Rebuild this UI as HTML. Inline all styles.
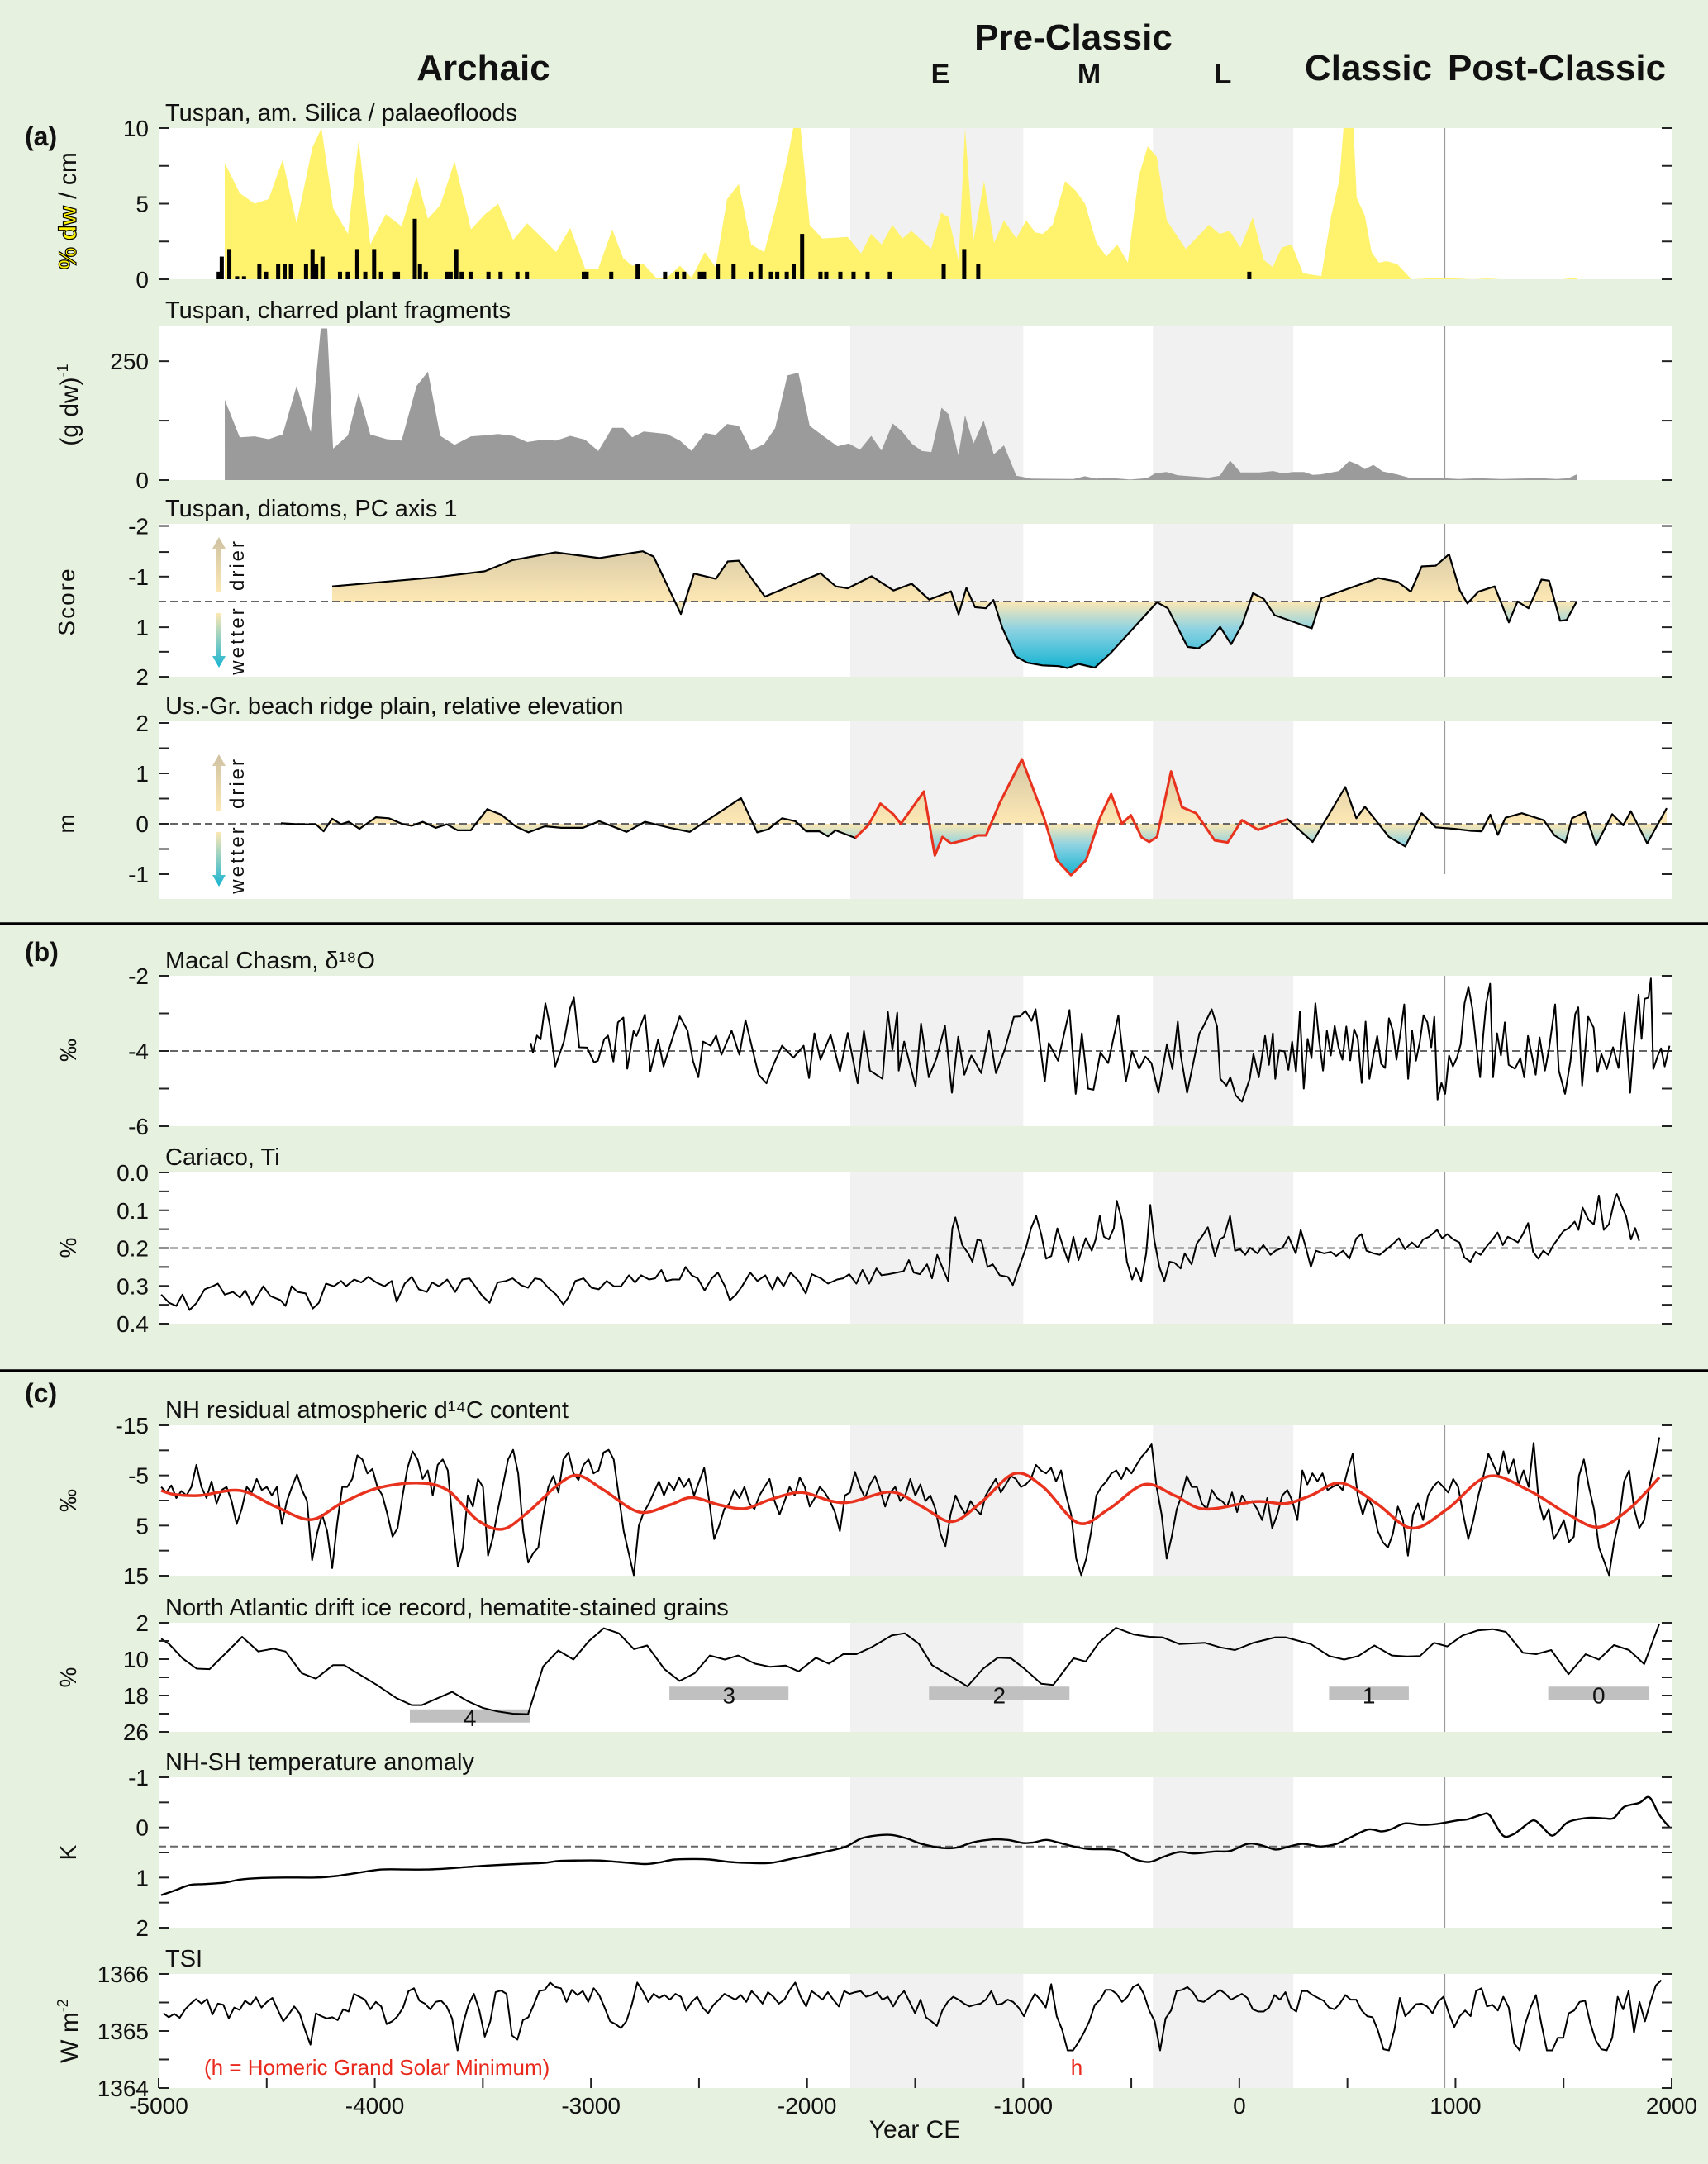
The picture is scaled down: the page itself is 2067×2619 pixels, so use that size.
<!DOCTYPE html>
<html><head><meta charset="utf-8"><title>Palaeoclimate records</title>
<style>html,body{margin:0;padding:0;background:#e7f1df;}svg{display:block;font-family:"Liberation Sans",sans-serif;}</style>
</head><body>
<svg id="chart" xmlns="http://www.w3.org/2000/svg" width="2067" height="2619" viewBox="0 0 2067 2619">
<defs>
<linearGradient id="gTanA3" gradientUnits="userSpaceOnUse" x1="0" y1="660" x2="0" y2="728"><stop offset="0" stop-color="#d6c8a6"/><stop offset="1" stop-color="#fde8b4"/></linearGradient>
<linearGradient id="gBlueA3" gradientUnits="userSpaceOnUse" x1="0" y1="728" x2="0" y2="810"><stop offset="0" stop-color="#fde8b4"/><stop offset="0.4" stop-color="#8fd3e2"/><stop offset="1" stop-color="#12b3d2"/></linearGradient>
<linearGradient id="gTanA4" gradientUnits="userSpaceOnUse" x1="0" y1="920" x2="0" y2="997"><stop offset="0" stop-color="#d6c8a6"/><stop offset="1" stop-color="#fde8b4"/></linearGradient>
<linearGradient id="gBlueA4" gradientUnits="userSpaceOnUse" x1="0" y1="997" x2="0" y2="1060"><stop offset="0" stop-color="#fde8b4"/><stop offset="0.4" stop-color="#8fd3e2"/><stop offset="1" stop-color="#12b3d2"/></linearGradient>
<linearGradient id="gArrowUp" x1="0" y1="1" x2="0" y2="0"><stop offset="0" stop-color="#fde8b4"/><stop offset="1" stop-color="#cfc2a2"/></linearGradient>
<linearGradient id="gArrowDown" x1="0" y1="0" x2="0" y2="1"><stop offset="0" stop-color="#fde8b4"/><stop offset="1" stop-color="#16b4d2"/></linearGradient>
</defs>
<rect x="0" y="0" width="2067" height="2619" fill="#e7f1df"/>
<g id="layer"></g>
</svg>
<script>
// ---------- data ----------
const silicaYears=[-4694,-4625,-4556,-4491,-4426,-4362,-4289,-4247,-4193,-4124,-4075,-4021,-3949,-3876,-3807,-3754,-3697,-3631,-3555,-3490,-3429,-3360,-3295,-3230,-3161,-3096,-3027,-2966,-2901,-2851,-2809,-2756,-2698,-2649,-2588,-2534,-2473,-2423,-2370,-2316,-2259,-2198,-2148,-2091,-2064,-2030,-1988,-1930,-1812,-1750,-1704,-1655,-1605,-1559,-1517,-1426,-1380,-1345,-1299,-1269,-1231,-1181,-1135,-1089,-1032,-986,-944,-909,-864,-806,-760,-714,-661,-615,-565,-516,-466,-424,-382,-336,-248,-141,-91,-45,5,62,112,154,196,242,295,379,425,463,482,528,543,581,612,646,681,731,796,941,1079,1148,1209,1496,1561];
const silicaValues=[7.7,5.7,5.0,5.3,7.9,3.7,8.7,10,4.7,3.0,9.2,2.3,4.3,3.5,6.8,4.0,4.9,7.8,3.3,4.3,5.0,2.6,3.7,2.8,1.8,3.4,0.7,0.7,3.3,1.4,0.9,1.0,0.1,0.1,0.9,0.1,1.8,0.8,5.3,6.3,2.3,1.8,4.5,8.0,10,10,3.6,2.7,2.8,1.7,3.0,2.3,3.6,2.7,3.2,2.0,4.4,4.1,1.2,10,2.5,6.5,2.4,3.9,2.7,3.9,3.1,3.0,3.6,6.5,5.9,5.0,2.4,1.5,2.3,1.1,6.8,8.8,8.1,3.9,2.0,3.6,3.0,3.2,2.1,4.1,1.3,0.8,2.1,2.3,0.4,0.2,4.2,6.6,10,10,5.4,4.2,1.8,1.1,1.2,1.0,0.0,0.1,0.0,0.05,0.0,0.0,0.1];
const floodYears=[-4722,-4708,-4673,-4637,-4605,-4534,-4503,-4447,-4417,-4388,-4318,-4288,-4271,-4242,-4161,-4125,-4081,-4044,-4003,-3971,-3910,-3893,-3815,-3791,-3764,-3667,-3649,-3623,-3598,-3557,-3474,-3418,-3340,-3296,-3033,-3020,-2906,-2784,-2657,-2601,-2569,-2496,-2477,-2413,-2340,-2260,-2216,-2167,-2138,-2094,-2062,-2023,-1938,-1911,-1846,-1785,-1720,-1617,-1368,-1273,-1208,46];
const floodCounts=[0.5,1.5,2,0.2,0.2,1,0.5,1,1,1,1,2,1,1.5,0.5,0.5,2,0.5,2,0.5,0.5,0.5,4,1,0.5,0.5,0.5,2,0.5,0.5,0.5,0.5,0.5,0.5,0.5,0.5,0.5,1,0.5,0.5,0.5,0.5,0.5,1,1,0.5,1,0.5,0.5,0.5,1,3,0.5,0.5,0.5,0.5,0.5,0.5,1,2,1,0.5];
const charYears=[-4694,-4625,-4556,-4491,-4426,-4362,-4296,-4250,-4220,-4193,-4124,-4075,-4021,-3945,-3876,-3807,-3754,-3697,-3631,-3555,-3490,-3429,-3360,-3295,-3222,-3161,-3096,-3027,-2966,-2901,-2851,-2809,-2756,-2649,-2588,-2534,-2473,-2423,-2370,-2316,-2259,-2198,-2148,-2091,-2040,-1988,-1911,-1859,-1807,-1755,-1703,-1656,-1604,-1560,-1516,-1469,-1425,-1378,-1344,-1300,-1269,-1230,-1183,-1136,-1089,-1032,-962,-767,-715,-663,-610,-506,-428,-389,-337,-285,-142,-90,-43,6,92,157,201,248,300,339,378,461,508,547,581,620,664,729,794,872,942,1015,1106,1210,1288,1392,1470,1522,1561];
const charValues=[169,90,92,86,96,198,101,319,319,66,94,183,96,86,83,198,228,93,74,92,94,97,93,80,85,83,93,85,61,110,110,90,102,97,83,61,99,95,118,114,62,76,109,220,226,114,88,71,77,64,93,62,119,102,77,61,59,152,138,52,136,77,125,54,73,9,3,2,8,3,5,1,4,14,17,10,5,9,41,16,16,19,14,17,17,11,12,19,40,33,23,32,18,12,4,5,4,2,4,2,3,4,2,4,12];
const diatomYears=[-4197,-3718,-3491,-3365,-3164,-2962,-2760,-2710,-2584,-2523,-2422,-2367,-2316,-2195,-1938,-1867,-1812,-1701,-1600,-1516,-1435,-1334,-1299,-1263,-1223,-1173,-1138,-1097,-1037,-982,-911,-835,-795,-744,-669,-593,-381,-331,-240,-190,-139,-89,-38,12,63,113,163,335,380,642,733,793,844,909,970,1020,1055,1106,1181,1247,1287,1338,1398,1433,1484,1514,1559];
const diatomScores=[-0.40,-0.64,-0.80,-1.09,-1.30,-1.15,-1.33,-1.19,0.33,-0.74,-0.60,-1.06,-1.08,-0.13,-0.75,-0.40,-0.35,-0.67,-0.29,-0.47,-0.05,-0.27,0.34,-0.36,0.15,0.18,-0.04,0.69,1.44,1.62,1.69,1.71,1.76,1.65,1.75,1.35,0.02,0.18,1.20,1.24,1.03,0.67,1.13,0.62,-0.22,-0.07,0.36,0.71,-0.09,-0.62,-0.52,-0.26,-0.93,-0.95,-1.25,-0.29,0.05,-0.26,-0.40,0.55,0,0.18,-0.58,-0.55,0.51,0.49,0.02];
const beachYears=[-4434,-4348,-4273,-4237,-4197,-4156,-4121,-4071,-3995,-3935,-3869,-3829,-3778,-3718,-3667,-3617,-3556,-3480,-3415,-3349,-3289,-3213,-3137,-3037,-2961,-2835,-2750,-2634,-2543,-2306,-2231,-2180,-2115,-2054,-2004,-1944,-1903,-1868,-1777,-1717,-1661,-1601,-1566,-1460,-1409,-1374,-1334,-1248,-1213,-1172,-1107,-1006,-905,-845,-779,-709,-643,-593,-543,-502,-452,-417,-381,-316,-265,-200,-114,-54,12,87,223,339,490,541,581,692,768,843,909,995,1070,1121,1161,1196,1231,1307,1408,1458,1509,1539,1599,1650,1725,1776,1811,1887,1977];
const beachElev=[0.01,-0.01,-0.01,-0.15,0.10,-0.01,0.04,-0.10,0.13,0.11,-0.01,-0.04,0.04,-0.08,-0.01,-0.13,-0.13,0.29,0.18,-0.05,-0.17,-0.05,-0.08,-0.08,0.05,-0.16,0.04,-0.08,-0.16,0.51,-0.17,-0.11,0.11,0.05,-0.15,-0.15,-0.25,-0.13,-0.28,-0.03,0.40,0.19,0,0.64,-0.63,-0.26,-0.39,-0.30,-0.23,-0.23,0.43,1.28,0.14,-0.72,-1.02,-0.72,0.14,0.59,0,0.17,-0.27,-0.36,-0.26,1.04,0.33,0.21,-0.33,-0.37,0.07,-0.12,0.09,-0.36,0.73,0.11,0.34,-0.26,-0.45,0.21,-0.07,-0.10,-0.14,-0.15,0.18,-0.22,0.12,0.21,0.07,-0.23,-0.37,0.11,0.23,-0.43,0.19,-0.03,0.25,-0.39,0.31];
const macalYears=[-3279,-3268,-3250,-3233,-3211,-3190,-3165,-3125,-3097,-3079,-3054,-3018,-2986,-2968,-2939,-2921,-2896,-2875,-2850,-2832,-2803,-2789,-2750,-2725,-2689,-2664,-2624,-2589,-2553,-2528,-2503,-2481,-2446,-2421,-2396,-2349,-2313,-2285,-2242,-2224,-2188,-2159,-2116,-2063,-2016,-1991,-1966,-1938,-1891,-1848,-1812,-1766,-1737,-1709,-1651,-1626,-1605,-1583,-1576,-1551,-1498,-1473,-1437,-1401,-1362,-1330,-1301,-1272,-1240,-1194,-1158,-1126,-1086,-1043,-1015,-990,-961,-943,-900,-882,-839,-786,-757,-729,-700,-675,-643,-607,-560,-525,-496,-464,-435,-407,-374,-335,-310,-285,-271,-242,-203,-185,-167,-128,-103,-88,-60,-42,-17,12,48,65,90,119,137,155,166,184,209,227,244,262,280,298,316,334,352,370,387,405,423,441,459,477,495,513,531,548,566,584,602,620,638,656,674,692,710,727,745,763,781,799,817,835,852,870,888,902,917,935,952,970,988,1006,1024,1042,1060,1078,1096,1114,1128,1142,1160,1174,1192,1210,1228,1246,1275,1300,1318,1335,1371,1389,1414,1432,1461,1478,1507,1532,1554,1568,1586,1614,1639,1657,1675,1700,1729,1754,1782,1808,1825,1847,1861,1875,1893,1904,1915,1936,1951,1968,1990];
const macalD18O=[-3.79,-4.04,-3.59,-3.69,-2.73,-3.31,-4.41,-3.75,-2.87,-2.58,-3.90,-3.91,-4.30,-4.26,-3.69,-3.59,-4.28,-3.24,-3.11,-4.47,-3.47,-3.60,-3.03,-4.54,-3.69,-4.41,-3.68,-3.08,-3.46,-4.26,-4.70,-3.75,-3.86,-3.59,-4.10,-3.46,-4.10,-3.18,-4.21,-4.63,-4.86,-4.41,-3.86,-4.18,-3.86,-4.72,-3.53,-4.23,-3.57,-4.54,-3.52,-4.86,-3.47,-4.52,-4.74,-2.96,-3.97,-2.98,-4.52,-3.75,-4.94,-3.27,-4.70,-4.19,-3.33,-5.11,-3.62,-4.63,-4.12,-4.59,-3.47,-4.59,-3.97,-3.09,-3.08,-2.93,-3.20,-2.89,-4.81,-3.79,-4.26,-2.91,-5.14,-3.53,-5.0,-5.03,-4.04,-4.32,-3.05,-4.81,-4.01,-4.47,-4.15,-4.32,-5.11,-3.82,-4.48,-3.22,-4.12,-5.11,-4.03,-3.53,-3.35,-2.89,-3.35,-4.74,-4.92,-4.70,-5.18,-5.35,-4.74,-4.08,-4.70,-3.60,-4.37,-3.53,-4.74,-3.99,-4.01,-4.50,-3.75,-4.56,-2.95,-5.0,-3.68,-4.19,-2.73,-3.75,-4.52,-3.46,-4.12,-3.33,-3.90,-4.23,-3.35,-4.25,-3.42,-3.68,-4.85,-3.22,-4.74,-4.12,-3.60,-4.34,-4.45,-3.13,-3.46,-4.23,-3.53,-2.76,-4.74,-3.46,-4.26,-3.75,-3.05,-3.24,-3.90,-3.09,-5.29,-4.85,-5.14,-4.12,-4.41,-4.19,-3.82,-2.73,-2.29,-2.87,-3.82,-4.70,-3.60,-2.73,-2.21,-4.70,-3.53,-4.12,-3.24,-4.37,-4.47,-4.19,-4.70,-3.60,-4.63,-3.64,-4.52,-3.97,-2.76,-4.52,-5.14,-4.26,-3.02,-2.84,-4.92,-3.09,-3.38,-4.56,-4.08,-4.48,-3.90,-4.45,-2.98,-5.11,-3.86,-2.50,-3.68,-2.61,-2.58,-2.07,-4.48,-4.12,-3.93,-4.41,-3.86];
const cariacoYears=[-4988,-4951,-4918,-4890,-4857,-4824,-4787,-4750,-4726,-4694,-4656,-4624,-4600,-4567,-4539,-4516,-4483,-4436,-4413,-4385,-4357,-4320,-4287,-4259,-4226,-4189,-4156,-4133,-4095,-4063,-4030,-3993,-3955,-3922,-3899,-3862,-3829,-3796,-3759,-3735,-3703,-3665,-3628,-3595,-3562,-3525,-3502,-3469,-3432,-3394,-3362,-3324,-3291,-3259,-3231,-3198,-3161,-3128,-3105,-3072,-3034,-2997,-2964,-2927,-2894,-2861,-2824,-2796,-2768,-2731,-2703,-2674,-2651,-2623,-2590,-2562,-2534,-2506,-2474,-2441,-2413,-2380,-2357,-2329,-2301,-2263,-2230,-2193,-2160,-2137,-2109,-2076,-2039,-2006,-1978,-1936,-1903,-1861,-1833,-1805,-1772,-1744,-1712,-1679,-1656,-1623,-1585,-1553,-1529,-1506,-1478,-1445,-1422,-1398,-1375,-1347,-1328,-1314,-1282,-1254,-1235,-1212,-1193,-1165,-1141,-1109,-1071,-1048,-1015,-987,-964,-940,-917,-894,-870,-842,-814,-791,-768,-744,-711,-683,-665,-646,-627,-604,-581,-567,-543,-520,-496,-478,-454,-431,-412,-394,-370,-347,-323,-300,-272,-253,-221,-197,-169,-146,-113,-90,-71,-43,-20,4,27,50,83,111,144,167,200,228,261,284,308,331,354,392,424,448,480,509,541,565,588,621,649,682,705,738,766,798,826,850,878,915,938,962,990,1018,1041,1069,1093,1116,1149,1172,1195,1219,1242,1266,1289,1312,1336,1359,1383,1406,1429,1453,1476,1499,1523,1551,1569,1588,1616,1640,1663,1686,1710,1738,1747,1770,1789,1812,1831,1850];
const cariacoTi=[.323,.345,.353,.323,.364,.345,.309,.301,.294,.323,.316,.331,.312,.349,.323,.301,.327,.338,.353,.301,.316,.320,.360,.345,.294,.301,.287,.301,.283,.291,.276,.291,.301,.287,.342,.294,.276,.309,.316,.291,.301,.283,.316,.283,.280,.309,.327,.345,.291,.287,.280,.298,.305,.280,.283,.305,.323,.349,.331,.287,.280,.305,.309,.287,.301,.301,.272,.291,.272,.283,.280,.258,.287,.283,.283,.250,.272,.280,.312,.280,.265,.301,.338,.323,.301,.265,.287,.272,.309,.276,.301,.265,.287,.320,.269,.280,.294,.283,.280,.269,.294,.258,.294,.254,.272,.269,.265,.261,.232,.265,.269,.243,.280,.218,.250,.287,.148,.119,.192,.214,.236,.177,.181,.250,.243,.272,.276,.298,.243,.199,.148,.115,.163,.228,.221,.148,.199,.236,.170,.232,.174,.207,.177,.115,.170,.177,.148,.075,.126,.236,.283,.254,.287,.214,.086,.177,.250,.287,.236,.239,.254,.214,.243,.188,.166,.145,.221,.177,.170,.115,.207,.203,.218,.199,.214,.192,.218,.207,.199,.170,.214,.152,.199,.250,.207,.214,.210,.221,.207,.228,.174,.163,.207,.214,.218,.203,.192,.174,.203,.185,.199,.177,.170,.152,.174,.163,.177,.185,.225,.236,.210,.218,.192,.177,.159,.192,.170,.177,.185,.163,.134,.210,.228,.207,.218,.192,.174,.155,.148,.130,.152,.093,.126,.137,.061,.152,.137,.068,.057,.090,.115,.177,.147,.181];
const d14cFirstYear=-4988, d14cLastYear=1943;
const d14cValues=[-2.7,-1.6,-3.0,-0.5,-1.9,-1.0,-2.7,-7.1,-2.7,-0.5,-3.8,0.6,-2.1,-2.7,0.1,4.7,1.7,-2.7,-1.6,-4.3,-2.1,-2.7,-1.0,-2.7,4.7,0.1,-2.7,-5.2,-2.1,0.1,11.9,6.6,2.8,6.1,13.5,4.5,-2.7,-2.7,-4.3,-9.0,-8.2,-5.4,-6.3,-2.7,-1.0,2.8,7.2,5.5,-1.0,-6.5,-9.8,-8.2,-4.3,-6.0,-1.0,-7.1,-8.2,-6.0,4.5,13.2,9.4,-1.0,1.2,-4.3,-2.7,11.0,7.2,1.7,-3.2,-8.2,-10.1,-5.4,6.1,12.4,10.5,9.4,2.8,-2.7,-4.9,-1.6,-8.2,-9.6,-5.4,-4.1,-7.1,-8.2,-5.4,-6.0,-9.6,-10.1,-8.2,-1.0,6.1,10.5,14.9,5.0,2.3,0.6,-1.6,-3.8,-1.0,-3.5,-2.1,-4.6,-2.7,-4.3,-1.0,-3.8,-6.5,0.1,7.7,5.0,1.7,0.6,-2.1,-0.5,-2.7,0.6,1.7,-1.0,-2.7,-4.3,0.1,2.8,0.1,-2.7,-1.0,-4.6,-2.7,1.2,-0.5,-2.7,-1.6,0.1,2.3,6.1,-1.0,-1.6,-5.7,-2.7,-0.5,-3.2,-4.9,-2.1,1.2,-1.6,-2.7,0.1,-1.0,-4.3,-1.0,-3.2,0.1,-1.0,1.7,6.6,9.1,2.8,-1.0,1.2,2.8,0.1,1.7,2.8,-1.0,-2.7,-4.3,-1.6,-3.2,-4.9,-4.3,-2.7,-3.2,-4.3,-7.1,-6.0,-5.4,-6.5,-3.8,-6.0,-1.0,2.8,11.6,14.9,11.6,6.1,-1.0,-2.7,-3.8,-5.4,-6.0,-4.3,-6.5,-5.4,-7.1,-8.7,-9.8,-11.2,-2.7,2.8,11.6,7.2,1.7,-1.0,-4.9,-2.7,-2.7,0.6,1.7,-2.1,-0.5,0.1,1.2,-1.6,2.3,-1.0,0.6,0.1,1.7,3.9,-0.5,5.5,2.8,-1.0,-2.1,0.1,3.9,-6.0,-3.2,-5.4,-3.8,-5.4,-2.1,-2.7,-3.2,-2.1,-6.0,-9.3,-1.0,2.8,-0.5,1.2,6.1,8.3,9.4,6.6,1.2,3.9,11.0,2.8,0.6,3.9,-1.0,-2.7,-3.8,-2.7,-1.6,-4.3,-2.7,2.8,7.7,3.9,-1.0,-4.9,-9.3,-7.1,-4.9,-9.8,-5.4,-8.2,-3.2,-6.0,-2.7,-11.5,0.1,3.9,1.7,7.7,6.1,3.9,8.3,7.2,-4.9,-8.2,-2.7,1.7,9.4,12.1,14.9,8.3,3.9,-3.8,-6.0,1.7,5.5,3.9,-2.7,-7.1,-12.6];
const d14cSmoothYears=[-4988,-4927,-4810,-4623,-4460,-4296,-4156,-3993,-3806,-3665,-3525,-3408,-3291,-3151,-3058,-2941,-2777,-2637,-2534,-2403,-2287,-2170,-2029,-1889,-1796,-1609,-1469,-1328,-1188,-1039,-908,-744,-604,-440,-300,-160,74,214,331,471,635,798,962,1149,1336,1523,1663,1803,1943];
const d14cSmoothValues=[-2.0,-1.2,-1.0,-2.0,1.2,3.8,0.6,-2.4,-3.5,-2.1,3.9,5.7,2.3,-3.2,-5.0,-2.1,2.3,0.9,-0.6,0.9,1.6,-0.2,-1.6,0.1,0.3,-1.7,1.2,4.2,0.1,-5.4,-2.7,4.5,1.7,-3.2,-1.0,1.7,0.2,0.6,-1.0,-3.5,0.6,5.5,1.7,-4.8,-2.1,2.8,5.3,1.7,-4.6];
const iceYears=[-4988,-4951,-4890,-4824,-4764,-4694,-4614,-4539,-4469,-4413,-4338,-4273,-4193,-4142,-3993,-3899,-3829,-3782,-3642,-3572,-3502,-3432,-3362,-3291,-3221,-3151,-3081,-3011,-2941,-2871,-2801,-2740,-2660,-2590,-2520,-2450,-2380,-2319,-2240,-2170,-2100,-2039,-1959,-1899,-1833,-1772,-1702,-1609,-1548,-1483,-1422,-1338,-1258,-1188,-1118,-1057,-992,-917,-861,-767,-711,-650,-571,-487,-417,-356,-277,-160,-90,-20,65,167,214,331,415,485,551,625,705,775,836,901,962,1032,1102,1172,1233,1312,1373,1443,1523,1602,1663,1733,1803,1873,1943];
const iceGrains=[5.5,6.7,9.8,12.1,12.2,8.9,5.1,8.3,7.7,8.3,13.1,14.3,11.3,11.3,15.6,18.6,20.1,20.1,17.2,19.2,20.7,21.5,22.0,22.1,11.6,8.1,10.1,6.1,3.2,4.3,7.8,7.0,12.2,14.8,13.1,9.2,10.1,9.2,11.0,11.7,11.4,12.7,9.7,11.0,8.9,8.9,7.4,4.8,4.3,6.6,11.3,13.7,16.0,12.2,9.7,9.8,12.2,15.4,15.7,9.8,10.5,6.4,3.1,4.6,5.1,5.2,6.7,6.4,7.4,8.0,6.4,5.2,5.2,6.7,9.3,10.1,9.3,7.0,9.2,9.4,9.3,6.4,7.2,4.8,3.7,3.4,4.0,8.6,8.9,8.0,13.3,8.9,10.1,6.9,8.0,11.1,2.2];
const bondEventLabels=["4","3","2","1","0"];
const bondEventStart=[-3838,-2637,-1436,415,1429];
const bondEventEnd=[-3282,-2086,-786,784,1897];
const bondEventLevel=[22.5,17.5,17.5,17.5,17.5];
const nhshYears=[-4988,-4927,-4857,-4787,-4694,-4624,-4530,-4413,-4273,-4179,-4086,-3969,-3852,-3759,-3665,-3572,-3478,-3338,-3221,-3151,-3058,-2964,-2871,-2754,-2684,-2614,-2520,-2450,-2357,-2263,-2170,-2076,-1983,-1889,-1819,-1749,-1679,-1609,-1539,-1469,-1375,-1305,-1235,-1141,-1071,-1001,-954,-894,-838,-767,-697,-590,-534,-487,-417,-347,-277,-207,-113,-43,36,97,167,214,284,331,378,448,518,597,658,705,766,845,915,1009,1055,1126,1158,1219,1266,1303,1359,1397,1443,1476,1523,1616,1686,1733,1780,1850,1897,1943,1990];
const nhshAnomaly=[1.35,1.26,1.15,1.13,1.10,1.04,1.01,1.00,1.00,0.97,0.91,0.84,0.84,0.84,0.82,0.79,0.76,0.73,0.71,0.67,0.66,0.66,0.69,0.73,0.70,0.64,0.63,0.64,0.69,0.71,0.71,0.63,0.55,0.46,0.38,0.22,0.16,0.15,0.22,0.33,0.41,0.40,0.30,0.24,0.25,0.31,0.30,0.25,0.30,0.38,0.43,0.44,0.51,0.63,0.69,0.58,0.49,0.52,0.48,0.47,0.33,0.35,0.44,0.40,0.33,0.35,0.38,0.33,0.19,0.04,0.08,0.03,-0.08,-0.05,-0.07,-0.14,-0.16,-0.26,-0.24,0.16,0.14,0.03,-0.14,-0.03,0.16,0.08,-0.11,-0.19,-0.18,-0.19,-0.41,-0.49,-0.60,-0.25,0.0];
const tsiFirstYear=-4978, tsiLastYear=1952;
const tsiValues=[1365.31,1365.24,1365.30,1365.23,1365.38,1365.48,1365.56,1365.48,1365.56,1365.29,1365.48,1365.46,1365.22,1365.41,1365.37,1365.53,1365.46,1365.59,1365.41,1365.51,1365.58,1365.37,1365.17,1365.29,1365.43,1365.31,1365.02,1364.76,1365.31,1365.26,1365.22,1365.24,1365.19,1365.38,1365.34,1365.65,1365.60,1365.55,1365.38,1365.51,1365.43,1365.12,1365.17,1365.26,1365.41,1365.70,1365.75,1365.53,1365.48,1365.38,1365.51,1365.53,1365.43,1365.22,1364.66,1365.12,1365.46,1365.65,1365.36,1364.90,1365.17,1365.68,1365.71,1365.65,1364.92,1364.85,1365.19,1365.24,1365.46,1365.70,1365.72,1365.85,1365.77,1365.75,1365.51,1365.72,1365.63,1365.70,1365.51,1365.75,1365.63,1365.41,1365.17,1365.12,1365.05,1365.17,1365.46,1365.85,1365.70,1365.51,1365.65,1365.58,1365.63,1365.55,1365.65,1365.60,1365.36,1365.51,1365.60,1365.41,1365.31,1365.46,1365.55,1365.65,1365.60,1365.55,1365.63,1365.51,1365.70,1365.60,1365.48,1365.68,1365.60,1365.48,1365.55,1365.72,1365.85,1365.60,1365.43,1365.70,1365.63,1365.55,1365.68,1365.55,1365.43,1365.70,1365.65,1365.68,1365.70,1365.60,1365.63,1365.68,1365.55,1365.60,1365.43,1365.60,1365.70,1365.51,1365.31,1365.55,1365.24,1365.17,1365.09,1365.36,1365.51,1365.60,1365.55,1365.48,1365.43,1365.46,1365.48,1365.55,1365.70,1365.46,1365.48,1365.55,1365.51,1365.41,1365.26,1365.48,1365.65,1365.55,1365.41,1365.82,1365.26,1365.02,1364.66,1364.66,1364.80,1364.97,1365.17,1365.46,1365.55,1365.72,1365.72,1365.65,1365.51,1365.60,1365.77,1365.82,1365.65,1365.36,1365.17,1364.66,1365.22,1365.36,1365.70,1365.72,1365.77,1365.68,1365.53,1365.51,1365.58,1365.65,1365.72,1365.65,1365.55,1365.60,1365.65,1365.58,1365.38,1365.34,1365.34,1365.41,1365.63,1365.55,1365.68,1365.41,1365.34,1365.70,1365.70,1365.63,1365.58,1365.53,1365.41,1365.38,1365.48,1365.63,1365.55,1365.55,1365.36,1365.26,1365.24,1365.00,1364.68,1364.66,1365.02,1365.58,1365.26,1365.36,1365.47,1365.48,1365.43,1365.31,1365.51,1365.60,1365.31,1365.07,1365.26,1365.36,1365.26,1365.70,1365.75,1365.43,1365.46,1365.36,1365.60,1365.41,1364.78,1364.66,1365.12,1365.41,1365.63,1365.12,1364.66,1364.66,1364.88,1364.88,1365.31,1365.36,1365.51,1365.53,1365.12,1364.83,1364.68,1364.66,1364.88,1365.60,1365.38,1365.70,1364.97,1365.51,1365.17,1365.51,1365.80,1365.89];
const xTickYears=[-5000,-4000,-3000,-2000,-1000,0,1000,2000];
const xMinorYears=[-4500,-3500,-2500,-1500,-500,500,1500];
const periodNames=["Archaic","Pre-Classic","E","M","L","Classic","Post-Classic"];

// ---------- helpers ----------
const NS="http://www.w3.org/2000/svg";
const layer=document.getElementById('layer');
const PL=192, PR=2023;
function X(yr){return PL+(yr+5000)*(PR-PL)/7000;}
function mk(tag,attrs,parent){const e=document.createElementNS(NS,tag);for(const k in attrs)e.setAttribute(k,attrs[k]);(parent||layer).appendChild(e);return e;}
function txt(s,attrs,parent){const t=mk('text',attrs,parent);t.textContent=s;return t;}
function scale(p){return v=>p.top+(v-p.vTop)/(p.vBot-p.vTop)*(p.bot-p.top);}
function linePts(ys,vs,Y){const n=Math.min(ys.length,vs.length);const a=[];for(let i=0;i<n;i++)a.push([X(ys[i]),Y(vs[i])]);return a;}
function poly(pts){return pts.map((p,i)=>(i?'L':'M')+p[0].toFixed(1)+','+p[1].toFixed(1)).join('');}
function smooth(pts){let d='M'+pts[0][0].toFixed(1)+','+pts[0][1].toFixed(1);for(let i=0;i<pts.length-1;i++){const p0=pts[Math.max(0,i-1)],p1=pts[i],p2=pts[i+1],p3=pts[Math.min(pts.length-1,i+2)];const c1=[p1[0]+(p2[0]-p0[0])/6,p1[1]+(p2[1]-p0[1])/6],c2=[p2[0]-(p3[0]-p1[0])/6,p2[1]-(p3[1]-p1[1])/6];d+='C'+c1[0].toFixed(1)+','+c1[1].toFixed(1)+' '+c2[0].toFixed(1)+','+c2[1].toFixed(1)+' '+p2[0].toFixed(1)+','+p2[1].toFixed(1);}return d;}

function panelFrame(p){
  const g=mk('g',{});
  
  
  const bg=mk('rect',{x:PL,y:p.top,width:PR-PL,height:p.bot-p.top,fill:'#ffffff'},g);
  
  
  const s1=mk('rect',{x:X(-1800),y:p.top,width:X(-1000)-X(-1800),height:p.bot-p.top,fill:'#f1f1f1'},g);
  
  
  const s2=mk('rect',{x:X(-400),y:p.top,width:X(250)-X(-400),height:p.bot-p.top,fill:'#f1f1f1'},g);
  
  
  const vl=mk('line',{x1:X(950),x2:X(950),y1:p.top,y2:p.vlEnd||p.bot,stroke:'#9a9a9a','stroke-width':1.5},g);
  
  
  const t=txt(p.title,{x:200,y:p.top-9,'font-size':29,fill:'#111'},g);
  
  
  return g;
}
function ticks(p,major,labels,minor,labelPos){
  const Y=scale(p);
  const g=mk('g',{});
  
  
  major.concat(minor).forEach(v=>{
    const y=Y(v);
    const l1=mk('line',{x1:PL,x2:PL+12,y1:y,y2:y,stroke:'#222','stroke-width':2},g);
    
    
    const l2=mk('line',{x1:PR-12,x2:PR,y1:y,y2:y,stroke:'#222','stroke-width':2},g);
    
    
  });
  labels.forEach((s,i)=>{
    const v=labelPos?labelPos[i]:major[i];
    const t=txt(s,{x:180,y:Y(v)+10,'font-size':28,'text-anchor':'end',fill:'#111'},g);
    
    
  });
}
function yTitle(s,cx,cy,name,extra){
  const t=txt(s,Object.assign({x:cx,y:cy,'font-size':28,'text-anchor':'middle',transform:'rotate(-90 '+cx+' '+cy+')',fill:'#111'},extra||{}));
  
  
  return t;
}
function dashed(p,v){const Y=scale(p);const l=mk('line',{x1:PL,x2:PR,y1:Y(v),y2:Y(v),stroke:'#666','stroke-width':2,'stroke-dasharray':'9,5'});}
function series(d,color,w,name){const e=mk('path',{d:d,fill:'none',stroke:color,'stroke-width':w,'stroke-linejoin':'round'});return e;}
function arrows(topY,botY,midUp,midDown,cx){
  const a1=mk('path',{d:`M${cx-3},${midUp} L${cx-3},${topY+14} L${cx-8},${topY+14} L${cx},${topY} L${cx+8},${topY+14} L${cx+3},${topY+14} L${cx+3},${midUp} Z`,fill:'url(#gArrowUp)'});
  
  
  const a2=mk('path',{d:`M${cx-3},${midDown} L${cx-3},${botY-14} L${cx-8},${botY-14} L${cx},${botY} L${cx+8},${botY-14} L${cx+3},${botY-14} L${cx+3},${midDown} Z`,fill:'url(#gArrowDown)'});
  
  
  const c1=(topY+midUp)/2, c2=(midDown+botY)/2;
  const t1=txt('drier',{x:cx+30,y:c1,'font-size':24,'letter-spacing':3,'text-anchor':'middle',transform:`rotate(-90 ${cx+30} ${c1})`,fill:'#111'});
  
  
  const t2=txt('wetter',{x:cx+30,y:c2,'font-size':24,'letter-spacing':3,'text-anchor':'middle',transform:`rotate(-90 ${cx+30} ${c2})`,fill:'#111'});
  
  
}
function twoToneArea(p,ys,vs,tan,blue,name){
  const Y=scale(p);const pts=linePts(ys,vs,Y);const y0=Y(0);
  const d=poly(pts)+`L${pts[pts.length-1][0]},${y0}L${pts[0][0]},${y0}Z`;
  const id=name+'clip';
  const cpA=mk('clipPath',{id:id+'A'});mk('rect',{x:PL,y:p.top,width:PR-PL,height:y0-p.top},cpA);
  const cpB=mk('clipPath',{id:id+'B'});mk('rect',{x:PL,y:y0,width:PR-PL,height:p.bot-y0},cpB);
  const a=mk('path',{d:d,fill:tan,'clip-path':`url(#${id}A)`});
  
  
  const b=mk('path',{d:d,fill:blue,'clip-path':`url(#${id}B)`});
  
  
  return pts;
}

// ---------- headers ----------
const hdr=[[periodNames[0],585,97,44],[periodNames[1],1299,60,44],[periodNames[2],1138,101,34],[periodNames[3],1318,101,34],[periodNames[4],1480,101,34],[periodNames[5],1656,97,44],[periodNames[6],1884,97,44]];
hdr.forEach(h=>{const t=txt(h[0],{x:h[1],y:h[2],'font-size':h[3],'font-weight':'bold','text-anchor':'middle',fill:'#111'});});
[['(a)',176],['(b)',1163],['(c)',1697]].forEach(s=>{const t=txt(s[0],{x:30,y:s[1],'font-size':32,'font-weight':'bold',fill:'#111'});});
[1118,1659].forEach(y=>{const l=mk('line',{x1:0,x2:2067,y1:y,y2:y,stroke:'#000','stroke-width':3.5});});

// ---------- panel a1: silica ----------
const pA1={name:'silica',title:'Tuspan, am. Silica / palaeofloods',top:155,bot:338,vTop:10,vBot:0};
panelFrame(pA1);
{const Y=scale(pA1);const pts=linePts(silicaYears,silicaValues,Y);
 const a=mk('path',{d:poly(pts)+`L${pts[pts.length-1][0]},${Y(0)}L${pts[0][0]},${Y(0)}Z`,fill:'#fff26c'});
 
 
 for(let i=0;i<Math.min(floodYears.length,floodCounts.length);i++){
   const b=mk('rect',{x:X(floodYears[i])-2.5,y:Y(floodCounts[i]),width:5,height:Y(0)-Y(floodCounts[i]),fill:'#000'});
   
   
 }}
ticks(pA1,[10,5,0],['10','5','0'],[7.5,2.5]);
{const t=mk('text',{x:92,y:255,'font-size':30,'text-anchor':'middle',transform:'rotate(-90 92 255)'});
 
 
 const s1=mk('tspan',{fill:'#fff200',stroke:'#000','stroke-width':1.2,'font-weight':'bold'},t);s1.textContent='% dw';
 const s2=mk('tspan',{fill:'#111'},t);s2.textContent=' / cm';}

// ---------- panel a2: charred ----------
const pA2={name:'charred',title:'Tuspan, charred plant fragments',top:394,bot:581,vTop:325,vBot:0};
panelFrame(pA2);
{const Y=scale(pA2);const pts=linePts(charYears,charValues,Y);
 const a=mk('path',{d:poly(pts)+`L${pts[pts.length-1][0]},${Y(0)}L${pts[0][0]},${Y(0)}Z`,fill:'#9b9b9b'});
 
 }
ticks(pA2,[250,0],['250','0'],[125]);
{const t=mk('text',{x:94,y:490,'font-size':30,'text-anchor':'middle',transform:'rotate(-90 94 490)',fill:'#111'});
 
 
 const s1=mk('tspan',{},t);s1.textContent='(g dw)';
 const s2=mk('tspan',{'font-size':18,dy:-12},t);s2.textContent='-1';}

// ---------- panel a3: diatoms ----------
const pA3={name:'diatoms',title:'Tuspan, diatoms, PC axis 1',top:634,bot:819,vTop:-2.055,vBot:1.989};
panelFrame(pA3);
{const Y=scale(pA3);const pts=twoToneArea(pA3,diatomYears,diatomScores,'url(#gTanA3)','url(#gBlueA3)','diatoms');
 dashed(pA3,0);
 series(poly(pts),'#000',2.2,'diatoms-line');}
ticks(pA3,[-2,-0.66,0.68,1.99],['-2','-1','1','2'],[-1.31,1.33]);
arrows(650,808,717,742,265);
yTitle('Score',90,728,'diatoms-y-axis-title',{'letter-spacing':2});

// ---------- panel a4: beach ridge ----------
const pA4={name:'beach-ridge',title:'Us.-Gr. beach ridge plain, relative elevation',top:873,bot:1088,vTop:2.033,vBot:-1.492,vlEnd:1058};
panelFrame(pA4);
{const pts=twoToneArea(pA4,beachYears,beachElev,'url(#gTanA4)','url(#gBlueA4)','beach');
 dashed(pA4,0);
 series(poly(pts),'#000',2.2,'beach-ridge-line');
 const red=pts.filter((p,i)=>beachYears[i]>=-1800&&beachYears[i]<=240);
 series(poly(red),'#e8321e',3,'beach-ridge-preclassic-line');}
ticks(pA4,[2,1,0,-1],['2','1','0','-1'],[1.5,0.5,-0.5]);
arrows(913,1073,982,1007,265);
yTitle('m',90,997,'beach-ridge-y-axis-title');

// ---------- panel b1: Macal ----------
const pB1={name:'macal',title:'Macal Chasm, δ¹⁸O',top:1181,bot:1363,vTop:-2,vBot:-6};
panelFrame(pB1);
dashed(pB1,-4);
series(poly(linePts(macalYears,macalD18O,scale(pB1))),'#000',2,'macal-d18o-line');
ticks(pB1,[-2,-4,-6],['-2','-4','-6'],[-3,-5]);
yTitle('‰',92,1271,'macal-y-axis-title');

// ---------- panel b2: Cariaco ----------
const pB2={name:'cariaco',title:'Cariaco, Ti',top:1419,bot:1602,vTop:0,vBot:0.4};
panelFrame(pB2);
dashed(pB2,0.2);
series(poly(linePts(cariacoYears,cariacoTi,scale(pB2))),'#000',2,'cariaco-ti-line');
ticks(pB2,[0,0.1,0.2,0.3,0.4],['0.0','0.1','0.2','0.3','0.4'],[0.05,0.15,0.25,0.35]);
yTitle('%',92,1510,'cariaco-y-axis-title');

// ---------- panel c1: d14C ----------
const pC1={name:'d14c',title:'NH residual atmospheric d¹⁴C content',top:1725,bot:1907,vTop:-15,vBot:15};
panelFrame(pC1);
{const Y=scale(pC1);const n=d14cValues.length;const yrs=d14cValues.map((v,i)=>d14cFirstYear+i*(d14cLastYear-d14cFirstYear)/(n-1));
 series(poly(linePts(yrs,d14cValues,Y)),'#000',2,'d14c-line');
 series(smooth(linePts(d14cSmoothYears,d14cSmoothValues,Y)),'#e8321e',3.5,'d14c-smoothed-line');}
ticks(pC1,[-15,-5,5,15],['-15','-5','5','15'],[-10,0,10]);
yTitle('‰',92,1816,'d14c-y-axis-title');

// ---------- panel c2: drift ice ----------
const pC2={name:'drift-ice',title:'North Atlantic drift ice record, hematite-stained grains',top:1964,bot:2096,vTop:2,vBot:26};
panelFrame(pC2);
{const Y=scale(pC2);
 for(let i=0;i<bondEventLabels.length;i++){
   const r=mk('rect',{x:X(bondEventStart[i]),y:Y(bondEventLevel[i])-8,width:X(bondEventEnd[i])-X(bondEventStart[i]),height:16,fill:'#c0c0c0'});
   
   
   const t=txt(bondEventLabels[i],{x:(X(bondEventStart[i])+X(bondEventEnd[i]))/2,y:Y(bondEventLevel[i])+12,'font-size':28,'text-anchor':'middle',fill:'#111'});
   
   
 }
 series(poly(linePts(iceYears,iceGrains,Y)),'#000',2,'drift-ice-line');}
ticks(pC2,[2,10,18,26],['2','10','18','26'],[6,14,22]);
yTitle('%',92,2030,'drift-ice-y-axis-title');

// ---------- panel c3: NH-SH ----------
const pC3={name:'nh-sh',title:'NH-SH temperature anomaly',top:2151,bot:2333,vTop:-1,vBot:2};
panelFrame(pC3);
dashed(pC3,0.38);
series(smooth(linePts(nhshYears,nhshAnomaly,scale(pC3))),'#000',2.4,'nh-sh-line');
ticks(pC3,[-1,0,1,2],['-1','0','1','2'],[-0.5,0.5,1.5]);
yTitle('K',92,2242,'nh-sh-y-axis-title');

// ---------- panel c4: TSI ----------
const pC4={name:'tsi',title:'TSI',top:2389,bot:2527,vTop:1366,vBot:1364};
panelFrame(pC4);
{const Y=scale(pC4);const n=tsiValues.length;const yrs=tsiValues.map((v,i)=>tsiFirstYear+i*(tsiLastYear-tsiFirstYear)/(n-1));
 series(poly(linePts(yrs,tsiValues,Y)),'#000',2,'tsi-line');}
ticks(pC4,[1366,1365,1364],['1366','1365','1364'],[1365.5,1364.5]);
{const t=mk('text',{x:94,y:2458,'font-size':30,'text-anchor':'middle',transform:'rotate(-90 94 2458)',fill:'#111'});
 
 
 const s1=mk('tspan',{},t);s1.textContent='W m';
 const s2=mk('tspan',{'font-size':18,dy:-12},t);s2.textContent='-2';}
{const t1=txt('(h = Homeric Grand Solar Minimum)',{x:247,y:2511,'font-size':26,fill:'#e8291c'});
 
 
 const t2=txt('h',{x:1303,y:2511,'font-size':26,'text-anchor':'middle',fill:'#e8291c'});
 
 }

// ---------- x axis ----------
xTickYears.concat(xMinorYears).forEach(yr=>{
  const l=mk('line',{x1:X(yr),x2:X(yr),y1:2515,y2:2527,stroke:'#222','stroke-width':2});
  
  
});
xTickYears.forEach(yr=>{
  const t=txt(String(yr),{x:X(yr),y:2558,'font-size':28,'text-anchor':'middle',fill:'#111'});
  
  
});
{const t=txt('Year CE',{x:1107,y:2587,'font-size':30,'text-anchor':'middle',fill:'#111'});
 
 }
</script>
</body></html>
